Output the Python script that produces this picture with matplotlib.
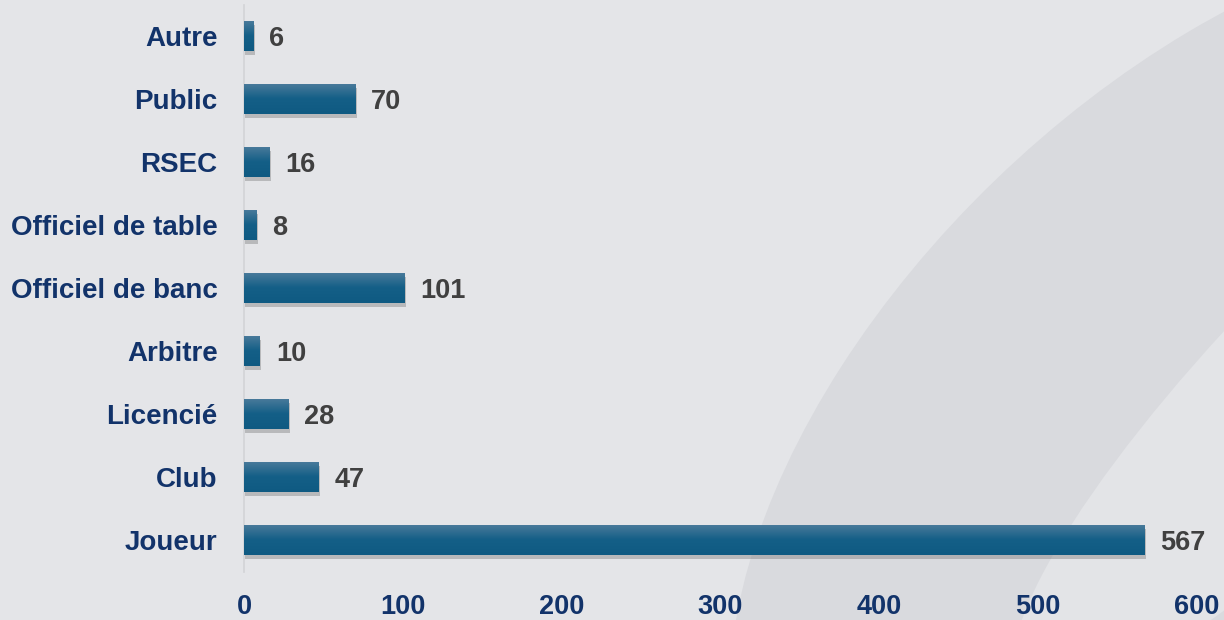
import numpy as np
import matplotlib
matplotlib.use("Agg")
import matplotlib.pyplot as plt
from matplotlib import patheffects as pe
from matplotlib.patches import Ellipse
from matplotlib.colors import LinearSegmentedColormap

categories = ["Joueur", "Club", "Licencié", "Arbitre", "Officiel de banc",
              "Officiel de table", "RSEC", "Public", "Autre"]
values = [567, 47, 28, 10, 101, 8, 16, 70, 6]
xticks = [0, 100, 200, 300, 400, 500, 600]

plt.rcParams['font.family'] = ['Liberation Sans', 'DejaVu Sans']

fig = plt.figure(figsize=(12.24, 6.2), dpi=100)
fig.patch.set_facecolor('#e4e5e8')

# faint decorative watermark in a background axes
bg = fig.add_axes([0, 0, 1, 1], zorder=-10)
bg.set_xlim(0, 1)
bg.set_ylim(0, 1)
bg.axis('off')
bg.add_patch(Ellipse((1.02, 0.30), 0.70, 1.7, angle=-18,
                     facecolor='#d9dade', edgecolor='none'))
bg.add_patch(Ellipse((1.10, 0.42), 0.22, 1.2, angle=-25,
                     facecolor='#e3e4e7', edgecolor='none'))

ax = fig.add_axes([244/1224, 1-571.5/620, (1197-244)/1224, 567/620], zorder=1)
ax.set_facecolor('none')

y = np.arange(len(categories))
bars = ax.barh(y, values, height=0.48, color='#165f86', zorder=3,
               path_effects=[pe.SimplePatchShadow(offset=(1, -3), shadow_rgbFace='#555555', alpha=0.3),
                             pe.Normal()])

# vertical gradient inside each bar
grad = np.linspace(0, 1, 64).reshape(-1, 1)
cmap = LinearSegmentedColormap.from_list('g', ['#0f5a82', '#145f87', '#4b7b9b'])
for b in bars:
    x0, y0, w, h = b.get_x(), b.get_y(), b.get_width(), b.get_height()
    im = ax.imshow(grad, cmap=cmap, aspect='auto', origin='lower',
                   extent=[x0, x0 + w, y0, y0 + h], zorder=4)
    im.set_clip_path(b)

for yi, v in zip(y, values):
    ax.text(v + 10, yi - 0.05, str(v), va='center', ha='left', fontsize=19.5,
            fontweight='bold', color='#404040', zorder=5)

ax.set_xlim(0, 600)
ax.set_ylim(-0.5, len(categories) - 0.5)
ax.set_yticks(y)
ax.set_yticklabels(categories, fontsize=20, fontweight='bold', color='#12336a')
ax.set_xticks(xticks)
ax.set_xticklabels([str(t) for t in xticks], fontsize=19.5, fontweight='bold', color='#12336a')
ax.tick_params(axis='both', length=0)
ax.tick_params(axis='y', pad=19)
ax.tick_params(axis='x', pad=16)
for s in ['top', 'right', 'bottom']:
    ax.spines[s].set_visible(False)
ax.spines['left'].set_color('#d2d3d6')
ax.spines['left'].set_linewidth(1.2)

fig.savefig('out.png', dpi=100, facecolor=fig.get_facecolor())
